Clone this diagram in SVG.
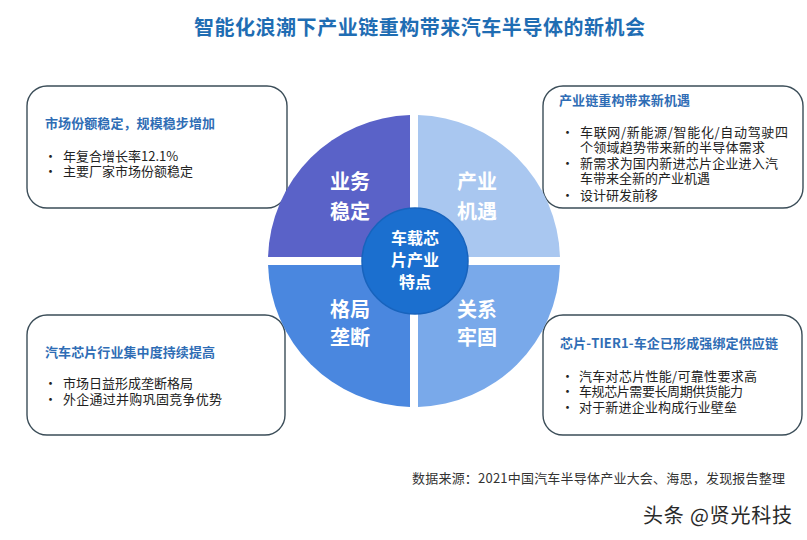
<svg xmlns="http://www.w3.org/2000/svg" width="807" height="540" viewBox="0 0 807 540">
<style>
.cjk{font-family:"Noto Sans CJK SC","Noto Sans",sans-serif}
.box{fill:#ffffff;stroke:#3b4d58;stroke-width:1.4}
.hd{font-size:13px;font-weight:bold;fill:#2f6db5}
.bd{font-size:13px;fill:#222222}
.q{font-size:20px;font-weight:bold;fill:#ffffff;text-anchor:middle}
.c{font-size:16px;font-weight:bold;fill:#ffffff;text-anchor:middle}
</style>
<rect width="807" height="540" fill="#ffffff"/>
<text class="cjk" x="194" y="35" font-size="20" font-weight="bold" fill="#1f6db3" textLength="451" lengthAdjust="spacing">智能化浪潮下产业链重构带来汽车半导体的新机会</text>

<g id="box-tl" class="cjk">
<rect class="box" x="27" y="86" width="260" height="122" rx="20"/>
<text class="hd" x="45" y="128" textLength="170" lengthAdjust="spacing">市场份额稳定，规模稳步增加</text>
<text class="bd"><tspan x="44" y="161">•</tspan><tspan x="63" y="161">年复合增长率12.1%</tspan><tspan x="44" y="176">•</tspan><tspan x="63" y="176">主要厂家市场份额稳定</tspan></text>
</g>

<g id="box-tr" class="cjk">
<rect class="box" x="543" y="86" width="260" height="122" rx="20"/>
<text class="hd" x="559" y="105" textLength="131" lengthAdjust="spacing">产业链重构带来新机遇</text>
<text class="bd"><tspan x="561" y="137">•</tspan><tspan x="580" y="137" textLength="208" lengthAdjust="spacing">车联网/新能源/智能化/自动驾驶四</tspan><tspan x="580" y="152" textLength="185" lengthAdjust="spacing">个领域趋势带来新的半导体需求</tspan><tspan x="561" y="168">•</tspan><tspan x="580" y="168" textLength="198" lengthAdjust="spacing">新需求为国内新进芯片企业进入汽</tspan><tspan x="580" y="183">车带来全新的产业机遇</tspan><tspan x="561" y="200">•</tspan><tspan x="580" y="200">设计研发前移</tspan></text>
</g>

<g id="box-bl" class="cjk">
<rect class="box" x="27" y="315" width="258" height="120" rx="20"/>
<text class="hd" x="45" y="357" textLength="170" lengthAdjust="spacing">汽车芯片行业集中度持续提高</text>
<text class="bd"><tspan x="44" y="388">•</tspan><tspan x="63" y="388">市场日益形成垄断格局</tspan><tspan x="44" y="404">•</tspan><tspan x="63" y="404" textLength="159" lengthAdjust="spacing">外企通过并购巩固竞争优势</tspan></text>
</g>

<g id="box-br" class="cjk">
<rect class="box" x="543" y="315" width="259" height="120" rx="20"/>
<text class="hd" x="560" y="348" textLength="218" lengthAdjust="spacing">芯片-TIER1-车企已形成强绑定供应链</text>
<text class="bd"><tspan x="561" y="381">•</tspan><tspan x="579" y="381" textLength="178" lengthAdjust="spacing">汽车对芯片性能/可靠性要求高</tspan><tspan x="561" y="396">•</tspan><tspan x="579" y="396" textLength="164" lengthAdjust="spacing">车规芯片需要长周期供货能力</tspan><tspan x="561" y="412">•</tspan><tspan x="579" y="412" textLength="158" lengthAdjust="spacing">对于新进企业构成行业壁垒</tspan></text>
</g>

<g id="q-tl" class="cjk">
<path d="M410,257 L410,115.05 A146,146 0 0,0 268.05,257 Z" fill="#5a62c8"/>
<text class="q" x="350" y="189">业务</text>
<text class="q" x="350" y="219">稳定</text>
</g>
<g id="q-tr" class="cjk">
<path d="M418,257 L418,115.05 A146,146 0 0,1 559.95,257 Z" fill="#a9c7f0"/>
<text class="q" x="477" y="189">产业</text>
<text class="q" x="477" y="219">机遇</text>
</g>
<g id="q-bl" class="cjk">
<path d="M410,265 L268.05,265 A146,146 0 0,0 410,406.95 Z" fill="#4a87df"/>
<text class="q" x="350" y="317">格局</text>
<text class="q" x="350" y="345">垄断</text>
</g>
<g id="q-br" class="cjk">
<path d="M418,265 L418,406.95 A146,146 0 0,0 559.95,265 Z" fill="#79a9ea"/>
<text class="q" x="477" y="317">关系</text>
<text class="q" x="477" y="345">牢固</text>
</g>
<g id="center" class="cjk">
<circle cx="415" cy="261" r="53" fill="#1b6fcf" stroke="#1763bd" stroke-width="1.5"/>
<text class="c" x="415" y="244">车载芯</text>
<text class="c" x="415" y="266">片产业</text>
<text class="c" x="415" y="288">特点</text>
</g>
<g id="connectors"></g>

<text class="cjk" x="412" y="483" font-size="13" fill="#333333" textLength="373" lengthAdjust="spacing">数据来源：2021中国汽车半导体产业大会、海思，发现报告整理</text>
<text class="cjk" x="643" y="523" font-size="20" fill="#2a2a2a" stroke="#ffffff" stroke-width="2" paint-order="stroke" textLength="149" lengthAdjust="spacing">头条 @贤光科技</text>
</svg>
